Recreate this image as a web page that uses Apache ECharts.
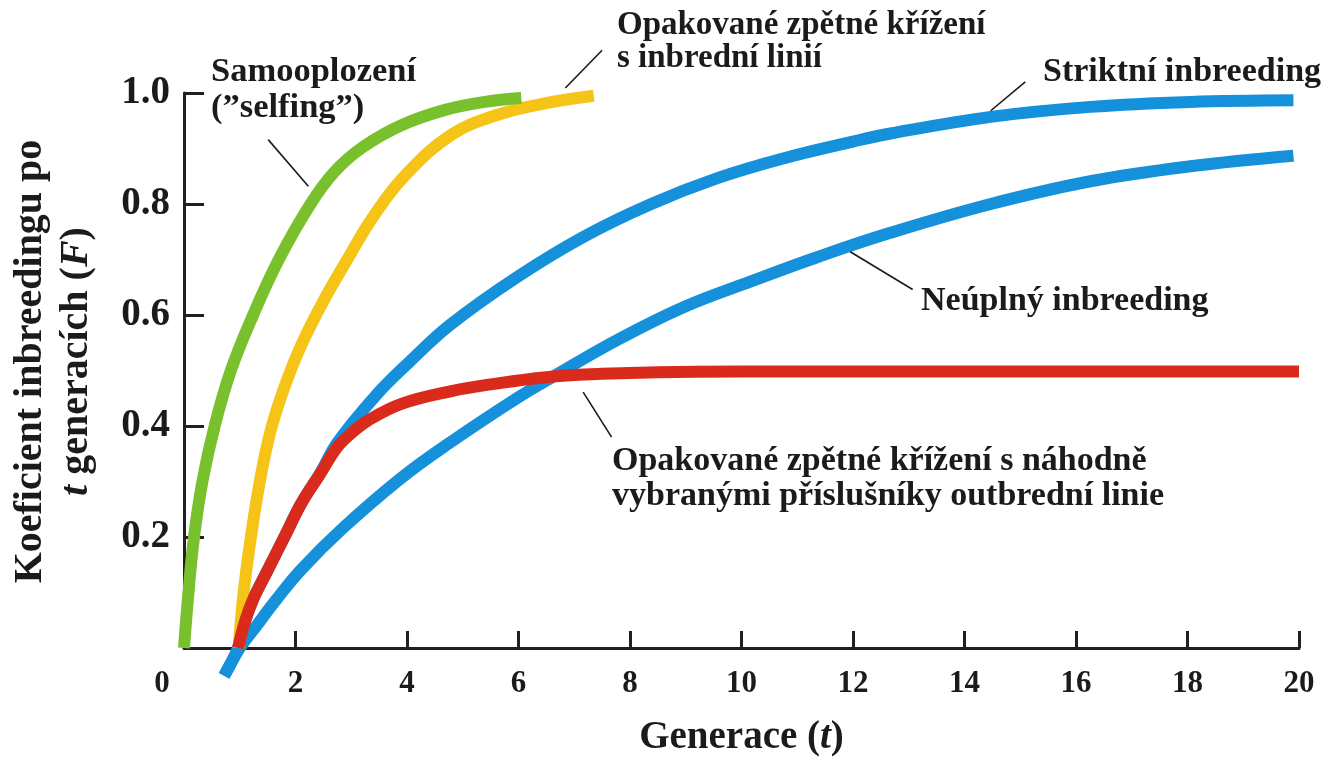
<!DOCTYPE html>
<html>
<head>
<meta charset="utf-8">
<script src="https://cdn.jsdelivr.net/npm/echarts@6/dist/echarts.min.js"></script>
<style>
html,body{margin:0;padding:0;background:#ffffff;}
#chart{width:1331px;height:762px;}
</style>
</head>
<body>
<div id="chart"></div>
<script>
// ---- data (t = generation, F = inbreeding coefficient) ----
const xTicks = [0, 2, 4, 6, 8, 10, 12, 14, 16, 18, 20];
const yTicks = [0.2, 0.4, 0.6, 0.8, 1.0];

const selfing = [[0,0],[0.08,0.1],[0.18,0.2],[0.33,0.3],[0.55,0.4],[0.84,0.5],[1.24,0.6],[1.7,0.7],[2.27,0.8],[2.7,0.858],[3.2,0.902],[3.9,0.942],[4.7,0.97],[5.4,0.984],[6.05,0.991]];
const backcrossInbred = [[0.98,0],[1.07,0.1],[1.2,0.2],[1.36,0.3],[1.55,0.39],[1.8,0.47],[2.1,0.545],[2.5,0.625],[2.9,0.695],[3.38,0.775],[4.0,0.855],[4.8,0.925],[5.6,0.96],[6.4,0.98],[7.35,0.995]];
const backcrossOutbred = [[0.97,0],[1.1,0.05],[1.25,0.09],[1.5,0.14],[1.85,0.21],[2.1,0.26],[2.45,0.315],[2.75,0.362],[3.0,0.387],[3.3,0.41],[3.9,0.44],[4.8,0.463],[5.5,0.475],[6.5,0.488],[7.5,0.494],[8.5,0.497],[10,0.498],[20,0.498]];
const strictInbreeding = [[0.72,-0.05],[0.97,0],[1.1,0.05],[1.25,0.09],[1.5,0.14],[1.85,0.21],[2.1,0.26],[2.45,0.316],[2.75,0.37],[3.45,0.456],[4.05,0.516],[4.77,0.582],[5.97,0.668],[7.17,0.741],[8.38,0.80],[9.58,0.847],[10.78,0.883],[11.98,0.912],[12.67,0.927],[14.47,0.957],[16.26,0.975],[18.05,0.984],[19.9,0.987]];
const partialInbreeding = [[0.72,-0.05],[1.0,0.0],[1.3,0.04],[1.64,0.085],[2.09,0.14],[2.84,0.215],[3.88,0.305],[4.77,0.37],[5.97,0.45],[6.57,0.486],[7.77,0.555],[8.98,0.615],[10.18,0.661],[11.38,0.705],[12.67,0.748],[14.47,0.8],[16.26,0.841],[18.05,0.868],[19.9,0.887]];

// leader lines from labels to curves
const leaderSelfing = [[1.51,0.916],[2.23,0.832]];
const leaderInbred = [[6.84,1.009],[7.50,1.077]];
const leaderStrict = [[14.47,0.968],[15.09,1.020]];
const leaderPartial = [[11.95,0.714],[13.07,0.646]];
const leaderOutbred = [[7.16,0.461],[7.67,0.380]];

const labels = {
  selfing: 'Samooplození\n(”selfing”)',
  inbred: 'Opakované zpětné křížení\ns inbrední linií',
  strict: 'Striktní inbreeding',
  partial: 'Neúplný inbreeding',
  outbred: 'Opakované zpětné křížení s náhodně\nvybranými příslušníky outbrední linie'
};

const FONT = '"Liberation Serif", "Times New Roman", serif';
const INK = '#1c1a1a';
const AX = '#231f20';

function curve(data, color, z) {
  return {
    type: 'line', data: data, symbol: 'none', showSymbol: false,
    smooth: 0.4, clip: false, silent: true, z: z,
    lineStyle: { color: color, width: 12, cap: 'butt', join: 'round' }
  };
}
function leader(data) {
  return {
    type: 'line', data: data, symbol: 'none', showSymbol: false,
    clip: false, silent: true, z: 10,
    lineStyle: { color: INK, width: 1.6 }
  };
}
function note(text, left, top, lh, fs) {
  return {
    type: 'text', left: left, top: top, silent: true,
    style: { text: text, fill: INK, fontFamily: FONT, fontWeight: 'bold', fontSize: fs, lineHeight: lh }
  };
}

const chart = echarts.init(document.getElementById('chart'), null, { renderer: 'canvas' });
chart.setOption({
  backgroundColor: '#ffffff',
  animation: false,
  grid: { left: 183.6, right: 32, top: 93, bottom: 109, containLabel: false },
  xAxis: {
    type: 'value', min: 0, max: 20, interval: 2,
    name: 'Generace ({it|t})', nameLocation: 'middle', nameGap: 70,
    nameTextStyle: {
      fontFamily: FONT, fontWeight: 'bold', fontSize: 39, color: INK,
      rich: { it: { fontFamily: FONT, fontWeight: 'bold', fontStyle: 'italic', fontSize: 39, color: INK } }
    },
    axisLine: { show: true, onZero: false, lineStyle: { color: AX, width: 3 } },
    axisTick: { show: true, inside: true, length: 17, lineStyle: { color: AX, width: 3 } },
    splitLine: { show: false },
    axisLabel: {
      margin: 20, fontFamily: FONT, fontWeight: 'bold', fontSize: 31, color: INK,
      formatter: function (v) { return v === 0 ? '{z|0}' : String(v); },
      rich: { z: { fontFamily: FONT, fontWeight: 'bold', fontSize: 31, color: INK, padding: [0, 44, 0, 0] } }
    }
  },
  yAxis: {
    type: 'value', min: 0, max: 1, interval: 0.2,
    name: 'Koeficient inbreedingu po\n{it|t} generacích ({it|F})',
    nameLocation: 'middle', nameGap: 84, nameRotate: 90,
    nameTextStyle: {
      fontFamily: FONT, fontWeight: 'bold', fontSize: 40, color: INK, lineHeight: 46,
      align: 'center', padding: [0, 0, 0, 18],
      rich: { it: { fontFamily: FONT, fontWeight: 'bold', fontStyle: 'italic', fontSize: 40, color: INK, lineHeight: 46 } }
    },
    axisLine: { show: true, lineStyle: { color: AX, width: 3 } },
    axisTick: { show: true, inside: true, length: 20, lineStyle: { color: AX, width: 3 } },
    splitLine: { show: false },
    axisLabel: {
      margin: 14, fontFamily: FONT, fontWeight: 'bold', fontSize: 39, color: INK,
      formatter: function (v) { return v === 0 ? '' : v.toFixed(1); }
    }
  },
  series: [
    curve(partialInbreeding, '#1590da', 2),
    curve(strictInbreeding, '#1590da', 2),
    curve(backcrossInbred, '#f6c417', 3),
    curve(backcrossOutbred, '#da2a1c', 4),
    curve(selfing, '#79c02d', 5),
    leader(leaderSelfing),
    leader(leaderInbred),
    leader(leaderStrict),
    leader(leaderPartial),
    leader(leaderOutbred)
  ],
  graphic: [
    note(labels.selfing, 211, 54, 36, 34.5),
    note(labels.inbred, 617, 9, 33, 33),
    note(labels.strict, 1043, 54, 36, 34),
    note(labels.partial, 921, 283, 36, 34),
    note(labels.outbred, 612, 444, 35, 34)
  ]
});
</script>
</body>
</html>
